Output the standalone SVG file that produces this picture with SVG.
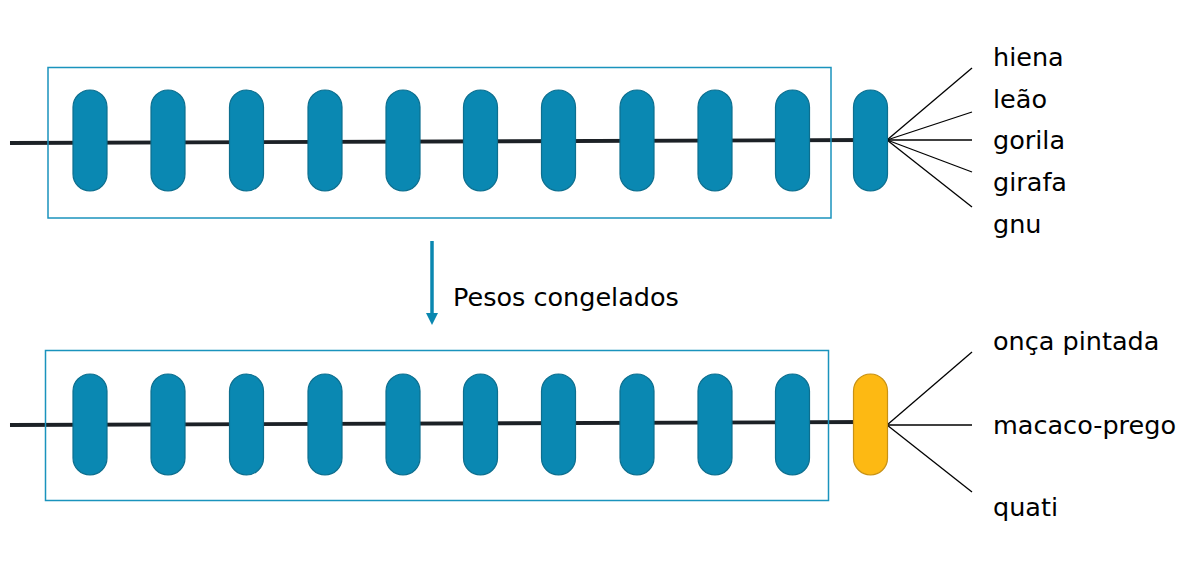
<svg xmlns="http://www.w3.org/2000/svg" width="1192" height="562" viewBox="0 0 1192 562">
<style>
.box{fill:none;stroke:#1a93bd;stroke-width:1.5}
.pill{fill:#0a88b2;stroke:#0d6f8f;stroke-width:1.2}
.pillNew{fill:#fdb913;stroke:#c89215;stroke-width:1.2}
.axis{stroke:#1c2126;stroke-width:3.8;fill:none;stroke-linecap:butt}
.fan{stroke:#000;stroke-width:1.3;fill:none}
.lbl{font-family:"DejaVu Sans",sans-serif;font-size:25.5px;fill:#000}
</style>
<defs>
<rect id="p" x="-17" y="-50.5" width="34" height="101" rx="17" ry="17"/>
<marker id="ah" markerWidth="12" markerHeight="12" refX="0" refY="0" viewBox="0 -6 12 12" markerUnits="userSpaceOnUse" orient="auto-start-reverse">
<path d="M0,-6 L12,0 L0,6 Z" fill="#0a87b0"/>
</marker>
</defs>
<rect width="1192" height="562" fill="#fff"/>
<g id="connectors">
<line class="axis" x1="10" y1="143" x2="870" y2="140"/>
<line class="axis" x1="10" y1="425" x2="870" y2="422"/>
<line class="fan" x1="887" y1="140" x2="972" y2="68"/>
<line class="fan" x1="887" y1="140" x2="972" y2="112"/>
<line class="fan" x1="887" y1="140" x2="972" y2="140"/>
<line class="fan" x1="887" y1="140" x2="972" y2="172"/>
<line class="fan" x1="887" y1="140" x2="972" y2="207"/>
<line class="fan" x1="887" y1="425" x2="972" y2="352"/>
<line class="fan" x1="887" y1="425" x2="972" y2="425"/>
<line class="fan" x1="887" y1="425" x2="972" y2="492"/>
<line id="arrow" x1="432" y1="241" x2="432" y2="313" stroke="#0a87b0" stroke-width="3.5" marker-end="url(#ah)"/>
</g>
<g id="top-model">
<rect class="box" x="48" y="67.5" width="783" height="150.5"/>
<use href="#p" class="pill" x="90" y="140.5"/>
<use href="#p" class="pill" x="168" y="140.5"/>
<use href="#p" class="pill" x="246.5" y="140.5"/>
<use href="#p" class="pill" x="325" y="140.5"/>
<use href="#p" class="pill" x="403" y="140.5"/>
<use href="#p" class="pill" x="480.5" y="140.5"/>
<use href="#p" class="pill" x="558.5" y="140.5"/>
<use href="#p" class="pill" x="637" y="140.5"/>
<use href="#p" class="pill" x="715" y="140.5"/>
<use href="#p" class="pill" x="792.5" y="140.5"/>
</g>
<g id="top-head">
<use href="#p" class="pill" x="870.5" y="140.5"/>
</g>
<g id="top-labels">
<text class="lbl" x="993" y="66">hiena</text>
<text class="lbl" x="993" y="108">leão</text>
<text class="lbl" x="993" y="149">gorila</text>
<text class="lbl" x="993" y="191">girafa</text>
<text class="lbl" x="993" y="233">gnu</text>
</g>
<g id="frozen-label">
<text class="lbl" x="453" y="306">Pesos congelados</text>
</g>
<g id="bottom-model">
<rect class="box" x="45.5" y="350.5" width="783" height="150"/>
<use href="#p" class="pill" x="90" y="424.5"/>
<use href="#p" class="pill" x="168" y="424.5"/>
<use href="#p" class="pill" x="246.5" y="424.5"/>
<use href="#p" class="pill" x="325" y="424.5"/>
<use href="#p" class="pill" x="403" y="424.5"/>
<use href="#p" class="pill" x="480.5" y="424.5"/>
<use href="#p" class="pill" x="558.5" y="424.5"/>
<use href="#p" class="pill" x="637" y="424.5"/>
<use href="#p" class="pill" x="715" y="424.5"/>
<use href="#p" class="pill" x="792.5" y="424.5"/>
</g>
<g id="bottom-head">
<use href="#p" class="pillNew" x="870.5" y="424.5"/>
</g>
<g id="bottom-labels">
<text class="lbl" x="993" y="350">onça pintada</text>
<text class="lbl" x="993" y="434">macaco-prego</text>
<text class="lbl" x="993" y="516">quati</text>
</g>
</svg>
